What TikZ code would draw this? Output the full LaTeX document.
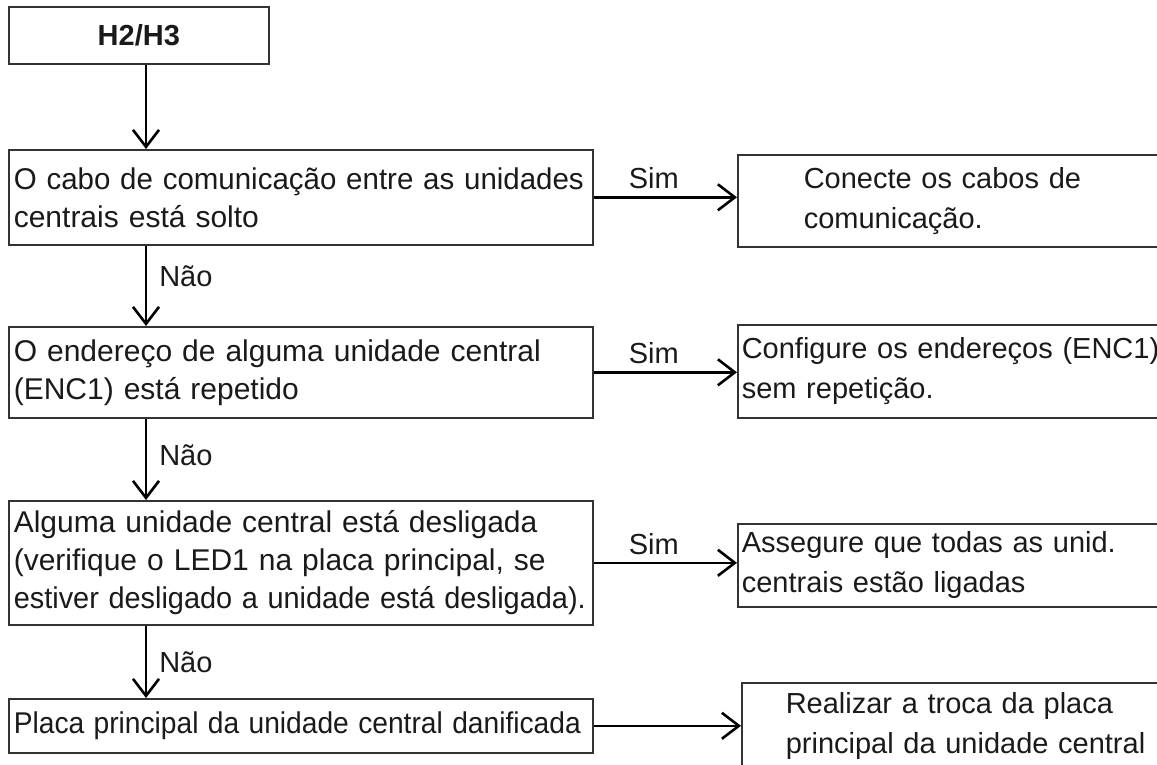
\documentclass[tikz,border=0pt]{standalone}
\usepackage{graphicx}
\usepackage{fontspec}
\setmainfont{Liberation Sans}
\usetikzlibrary{arrows.meta, calc}
\definecolor{boxline}{HTML}{333333}
\definecolor{inkdark}{HTML}{1A1A1A}
\newcommand{\squeezeline}[2]{\resizebox{#1}{\height}{#2}}

\begin{document}
\begin{tikzpicture}[
    x=1pt, y=-1pt,
    font=\fontsize{29}{35}\selectfont,
    >={Straight Barb[length=17pt, width=26pt]},
    text=inkdark,
    start box/.style={draw=boxline, line width=1.6pt, anchor=north west,
        minimum width=260pt, minimum height=57pt, inner sep=0pt,
        font=\fontsize{29}{35}\selectfont\bfseries},
    check box/.style={draw=boxline, line width=1.6pt, anchor=north west,
        text width=574pt, inner xsep=5pt, align=left, minimum height=#1,
        font=\fontsize{30}{38}\selectfont},
    answer box/.style={draw=boxline, line width=1.6pt, anchor=north west,
        align=left, minimum height=#1, font=\fontsize{29}{40}\selectfont},
    flow/.style={draw=black, line width=2.6pt, ->},
    yes label/.style={above=4pt, inner sep=3pt, pos=0.42},
    no label/.style={right=9pt, inner sep=3pt, pos=#1},
]
\useasboundingbox (0,0) rectangle (1157,765);
\clip (0,0) rectangle (1157,765);

% --- left column: checks ---------------------------------------------
\node[start box] (start) at (8,6) {H2/H3};
\node[check box=95pt] (q1) at (8,149)
    {\squeezeline{570pt}{O cabo de comunicação entre as unidades}\\
     centrais está solto};
\node[check box=91pt] (q2) at (8,326)
    {O endereço de alguma unidade central\\(ENC1) está repetido};
\node[check box=124pt] (q3) at (8,500)
    {Alguma unidade central está desligada\\
     (verifique o LED1 na placa principal, se\\
     \squeezeline{572pt}{estiver desligado a unidade está desligada).}};
\node[check box=54pt] (q4) at (8,698)
    {\squeezeline{567pt}{Placa principal da unidade central danificada}};

% --- right column: actions -------------------------------------------
\node[answer box=92pt, inner xsep=66pt, text width=400pt] (a1) at (737,154)
    {Conecte os cabos de\\comunicação.};
\node[answer box=93pt, inner xsep=4pt, text width=450pt] (a2) at (737,324)
    {Configure os endereços (ENC1)\\sem repetição.};
\node[answer box=83pt, inner xsep=4pt, text width=450pt] (a3) at (737,523)
    {Assegure que todas as unid.\\centrais estão ligadas};
\node[answer box=86pt, inner xsep=44pt, text width=420pt] (a4) at (741,682)
    {Realizar a troca da placa\\principal da unidade central};

% --- flow down (Não) --------------------------------------------------
\coordinate (spine) at (146,0);
\draw[flow] (start.south -| spine) -- (q1.north -| spine);
\draw[flow] (q1.south -| spine) -- (q2.north -| spine) node[no label=0.38] {Não};
\draw[flow] (q2.south -| spine) -- (q3.north -| spine) node[no label=0.45] {Não};
\draw[flow] (q3.south -| spine) -- (q4.north -| spine) node[no label=0.5] {Não};

% --- flow across (Sim) ------------------------------------------------
\draw[flow] (q1.east) -- (q1.east -| a1.west) node[yes label] {Sim};
\draw[flow] (q2.east) -- (q2.east -| a2.west) node[yes label] {Sim};
\draw[flow] (q3.east) -- (q3.east -| a3.west) node[yes label] {Sim};
\draw[flow] (q4.east) -- (q4.east -| a4.west);

\end{tikzpicture}
\end{document}
